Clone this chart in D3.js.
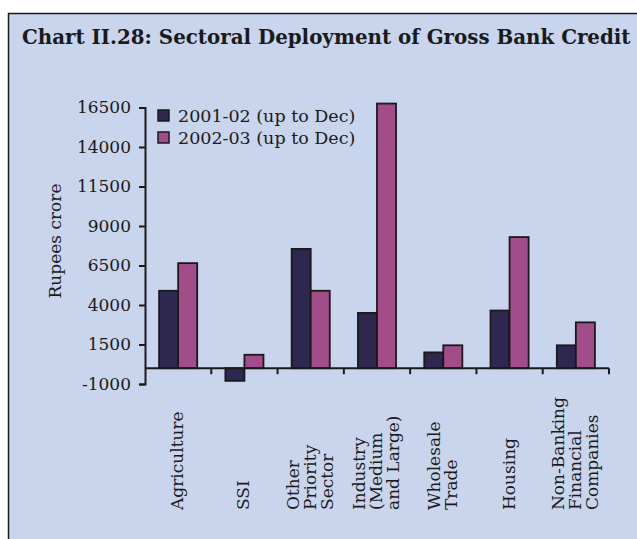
<!DOCTYPE html>
<html>
<head>
<meta charset="utf-8">
<script src="https://cdn.jsdelivr.net/npm/d3@7"></script>
<style>
  body { margin: 0; background: #fff; }
  svg text { font-family: "DejaVu Serif", serif; fill: #1a1a1a; }
</style>
</head>
<body>
<div id="chart"></div>
<script>
const categories = [
    ["Agriculture"],
    ["SSI"],
    ["Other", "Priority", "Sector"],
    ["Industry", "(Medium", "and Large)"],
    ["Wholesale", "Trade"],
    ["Housing"],
    ["Non-Banking", "Financial", "Companies"]
]
const seriesNames = ["2001-02 (up to Dec)", "2002-03 (up to Dec)"]
const credit2001 = [4900, -800, 7550, 3500, 1000, 3650, 1450]
const credit2002 = [6650, 850, 4900, 16750, 1450, 8300, 2900]
const yTicks = [-1000, 1500, 4000, 6500, 9000, 11500, 14000, 16500]

const width = 637,
    height = 539,
    colors = ["#2e2750", "#a34c8a"];

const svg = d3.select("#chart").append("svg")
    .attr("width", width)
    .attr("height", height)

// panel background + frame (runs off the right and bottom edge)
svg.append("rect")
    .attr("x", 8.5).attr("y", 13.5)
    .attr("width", width + 10).attr("height", height + 10)
    .attr("fill", "#c9d5ec")
    .attr("stroke", "#1a1a1a")
    .attr("stroke-width", 1.5)

const title = svg.append("text")
    .attr("x", 22).attr("y", 44)
    .style("font-weight", "bold")
    .style("font-size", "17px")
    .text("Chart II.28: Sectoral Deployment of Gross Bank Credit")
// squeeze title into the same span as the reference
const tw = title.node().getComputedTextLength()
title.style("font-size", (17 * 609 / tw) + "px")

const x = d3.scaleBand().domain(d3.range(categories.length)).range([145, 609]).padding(0)
const xs = d3.scaleBand().domain([0, 1]).range([0, x.bandwidth()]).paddingInner(0).paddingOuter(0.74)
const y = d3.scaleLinear().domain([-1000, 16500]).range([384, 107.5])

// bars
const data = categories.map((c, i) => [credit2001[i], credit2002[i]])
const groups = svg.selectAll(".group").data(data).enter().append("g")
    .attr("transform", (d, i) => "translate(" + x(i) + ",0)")

groups.selectAll("rect").data(d => d).enter().append("rect")
    .attr("x", (d, j) => xs(j))
    .attr("width", xs.bandwidth())
    .attr("y", d => y(Math.max(0, d)))
    .attr("height", d => Math.abs(y(d) - y(0)))
    .attr("fill", (d, j) => colors[j])
    .attr("stroke", "#1a1a1a")
    .attr("stroke-width", 1.8)

// y axis
const yAxis = svg.append("g")
    .attr("transform", "translate(145,0)")
    .call(d3.axisLeft(y).tickValues(yTicks).tickSize(6).tickPadding(8).tickFormat(d => String(d)))
yAxis.select(".domain").attr("stroke", "#1a1a1a").attr("stroke-width", 2)
yAxis.selectAll(".tick line").attr("stroke", "#1a1a1a").attr("stroke-width", 2)
yAxis.selectAll(".tick text").style("font-size", "17px").style("font-family", "DejaVu Serif").attr("fill", "#1a1a1a")

// x axis on zero line, ticks at category boundaries
const xAxis = svg.append("g")
    .attr("transform", "translate(0," + y(0) + ")")
xAxis.append("line")
    .attr("x1", 145).attr("x2", 609)
    .attr("stroke", "#1a1a1a").attr("stroke-width", 2)
xAxis.selectAll(".xtick").data(d3.range(1, categories.length + 1)).enter().append("line")
    .attr("x1", i => x(0) + i * x.step()).attr("x2", i => x(0) + i * x.step())
    .attr("y1", 0).attr("y2", 6)
    .attr("stroke", "#1a1a1a").attr("stroke-width", 2)

// category labels, rotated
const lineGap = 17
const labels = svg.selectAll(".xlabel").data(categories).enter().append("text")
    .attr("transform", (d, i) => "translate(" + (x(i) + x.bandwidth() / 2 + 5 - (d.length - 1) * lineGap / 2) + ",510) rotate(-90)")
    .style("font-size", "17px")
labels.selectAll("tspan").data(d => d).enter().append("tspan")
    .attr("x", 0)
    .attr("dy", (d, j) => j === 0 ? 0 : lineGap)
    .text(d => d)

// y label
svg.append("text")
    .attr("transform", "translate(61,241) rotate(-90)")
    .attr("text-anchor", "middle")
    .style("font-size", "17px")
    .text("Rupees crore")

// legend
const legend = svg.selectAll(".legend").data(seriesNames).enter().append("g")
    .attr("transform", (d, i) => "translate(158," + (110 + i * 22) + ")")
legend.append("rect")
    .attr("width", 11).attr("height", 11)
    .attr("fill", (d, i) => colors[i])
    .attr("stroke", "#1a1a1a").attr("stroke-width", 1.5)
legend.append("text")
    .attr("x", 20).attr("y", 12)
    .style("font-size", "17.5px")
    .text(d => d)
</script>
</body>
</html>
